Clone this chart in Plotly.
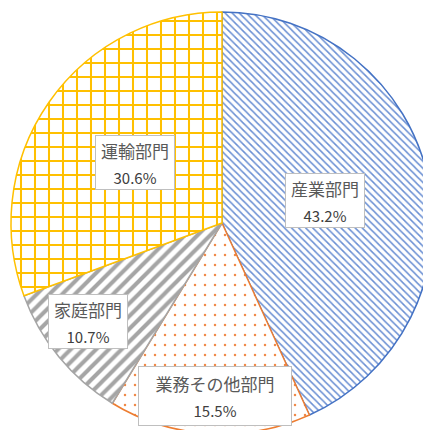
import math
import plotly.graph_objects as go

# ---- data ----
labels = ["産業部門", "業務その他部門", "家庭部門", "運輸部門"]
values = [43.2, 15.5, 10.7, 30.6]

# ---- styles ----
colors = ["#4472C4", "#ED7D31", "#A5A5A5", "#FFC000"]
pat_fg = ["#6A8FD3", "#F08A48", "#A5A5A5", "#FFC000"]
shapes = ["\\", ".", "/", "+"]
pat_sizes = [5, 10, 9, 14]
pat_solid = [0.3, 0.05, 0.45, 0.27]
label_r = [0.5, 0.82, 0.79, 0.5]      # radial fraction of label centre
label_dang = [0, -1, 3, 0]            # small angular nudge (deg)
box_w = [80, 154, 80, 80]
box_h = [55, 60, 55, 55]

W, H = 433, 434
ML, MT = 11, 12

fig = go.Figure(go.Pie(
    labels=labels,
    values=values,
    sort=False,
    direction="clockwise",
    rotation=0,
    textinfo="none",
    hoverinfo="label+percent",
    showlegend=False,
    domain=dict(x=[0, 1], y=[0, 1]),
    marker=dict(
        colors=colors,
        line=dict(color=colors, width=1.5),
        pattern=dict(
            shape=shapes,
            fillmode="replace",
            bgcolor=["white"] * len(values),
            fgcolor=pat_fg,
            size=pat_sizes,
            solidity=pat_solid,
        ),
    ),
))

total = sum(values)
cum = 0.0
annotations = []
for i, (lab, v) in enumerate(zip(labels, values)):
    mid = (cum + v / 2) / total * 360 + label_dang[i]
    cum += v
    a = math.radians(mid)
    x = 0.5 + 0.5 * label_r[i] * math.sin(a)
    y = 0.5 + 0.5 * label_r[i] * math.cos(a)
    pct = f"{v / total * 100:.1f}%"
    annotations.append(dict(
        x=x, y=y, xref="paper", yref="paper",
        xanchor="center", yanchor="middle",
        showarrow=False,
        text=(f"<span style='font-size:17px;color:#595959'>{lab}</span><br>"
              f"<span style='font-size:15px;color:#404040'>{pct}</span>"),
        font=dict(family="Noto Sans CJK JP", size=20, color="#404040"),
        align="center",
        bgcolor="white",
        bordercolor="#BFBFBF",
        borderwidth=1,
        borderpad=1,
        width=box_w[i] - 4,
        height=box_h[i] - 4,
    ))

fig.update_layout(
    width=W, height=H,
    margin=dict(l=ML, t=MT, r=0, b=0, pad=0),
    paper_bgcolor="white",
    plot_bgcolor="white",
    annotations=annotations,
)

fig.write_html(
    "out.html",
    post_script=("document.documentElement.style.overflow='hidden';"
                 "document.body.style.overflow='hidden';"
                 "document.body.style.margin='0';"),
)
